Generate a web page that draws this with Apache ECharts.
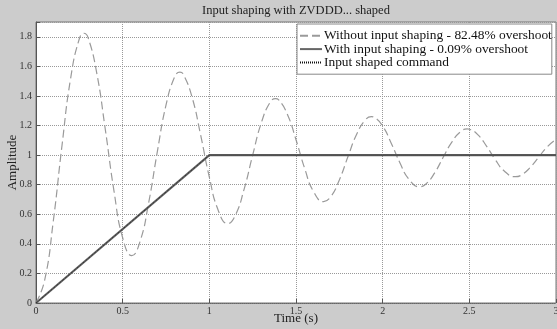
<!DOCTYPE html>
<html>
<head>
<meta charset="utf-8">
<script src="https://cdn.jsdelivr.net/npm/echarts@6/dist/echarts.min.js"></script>
<style>
  html, body { margin: 0; padding: 0; background: #cccccc; }
  #main { width: 557px; height: 329px; }
</style>
</head>
<body>
<div id="main"></div>
<script>
// time (s) and amplitude
const timeUnshaped = [0, 0.05, 0.1, 0.15, 0.2, 0.25, 0.2765, 0.3, 0.35, 0.4, 0.45, 0.5, 0.553, 0.6, 0.65, 0.7, 0.75, 0.8, 0.83, 0.85,
  0.9, 0.95, 1, 1.05, 1.106, 1.15, 1.2, 1.25, 1.3, 1.35, 1.3825, 1.4, 1.45, 1.5, 1.55, 1.6, 1.659, 1.7, 1.75, 1.8,
  1.85, 1.9, 1.935, 1.95, 2, 2.05, 2.1, 2.15, 2.212, 2.25, 2.3, 2.35, 2.4, 2.45, 2.488, 2.5, 2.55, 2.6, 2.65, 2.7,
  2.765, 2.8, 2.85, 2.9, 2.95, 3];
const ampUnshaped = [0, 0.154, 0.556, 1.065, 1.521, 1.787, 1.824, 1.796, 1.558, 1.172, 0.757, 0.441, 0.320, 0.415, 0.678, 1.023, 1.338, 1.529, 1.561, 1.546,
  1.393, 1.135, 0.851, 0.631, 0.537, 0.593, 0.767, 1.000, 1.219, 1.356, 1.382, 1.374, 1.277, 1.104, 0.910, 0.756, 0.685, 0.718, 0.832, 0.990,
  1.141, 1.238, 1.260, 1.256, 1.196, 1.079, 0.947, 0.839, 0.786, 0.805, 0.880, 0.987, 1.090, 1.159, 1.177, 1.175, 1.137, 1.059, 0.969, 0.894,
  0.854, 0.865, 0.915, 0.986, 1.057, 1.106];

const timeShaped = [0, 1, 3];
const ampShaped = [0, 1, 1];

const timeCommand = [0, 1, 3];
const ampCommand = [0, 1, 1];

const xTicks = [0, 0.5, 1, 1.5, 2, 2.5, 3];
const yTicks = [0, 0.2, 0.4, 0.6, 0.8, 1, 1.2, 1.4, 1.6, 1.8];

const names = [
  'Without input shaping - 82.48% overshoot',
  'With input shaping - 0.09% overshoot',
  'Input shaped command'
];

function pairs(xs, ys) {
  return xs.map((x, i) => [x, ys[i]]);
}

const serif = '"Liberation Serif", "DejaVu Serif", serif';
const chart = echarts.init(document.getElementById('main'));

chart.setOption({
  backgroundColor: '#cccccc',
  animation: false,
  textStyle: { fontFamily: serif },
  graphic: [{
    type: 'text',
    x: 296,
    y: 11,
    style: {
      text: 'Input shaping with ZVDDD... shaped',
      font: '12.5px ' + serif,
      fill: '#222',
      align: 'center',
      verticalAlign: 'middle'
    }
  }],
  grid: {
    left: 36, top: 22, right: 1, bottom: 26,
    outerBoundsMode: 'none',
    containLabel: false,
    show: true,
    backgroundColor: '#ffffff',
    borderColor: '#777',
    borderWidth: 1
  },
  legend: {
    orient: 'vertical',
    left: 297,
    top: 24,
    padding: [5, 0, 5, 2],
    itemGap: 0,
    itemWidth: 22,
    itemHeight: 13,
    backgroundColor: '#ffffff',
    borderColor: '#888',
    borderWidth: 1,
    borderRadius: 0,
    itemStyle: { color: 'rgba(0,0,0,0)', borderWidth: 0 },
    textStyle: { fontFamily: serif, fontSize: 13.4, color: '#111', lineHeight: 13.4, padding: [0, 0, 0, -3] },
    data: names
  },
  xAxis: {
    type: 'value',
    min: 0, max: 3, interval: 0.5,
    name: 'Time (s)',
    nameLocation: 'middle',
    nameGap: 9.5,
    nameMoveOverlap: false,
    nameTextStyle: { fontFamily: serif, fontSize: 13, color: '#222' },
    axisLine: { lineStyle: { color: '#666', type: 'dotted' } },
    axisTick: { inside: true, length: 4, lineStyle: { color: '#555' } },
    axisLabel: {
      fontFamily: serif, fontSize: 10, color: '#333', margin: 3,
      formatter: v => xTicks.indexOf(v) >= 0 ? String(v) : ''
    },
    splitLine: { show: true, lineStyle: { color: '#999', type: 'dotted' } }
  },
  yAxis: {
    type: 'value',
    min: 0, max: 1.9, interval: 0.2,
    name: 'Amplitude',
    nameLocation: 'middle',
    nameGap: 17,
    nameMoveOverlap: false,
    nameTextStyle: { fontFamily: serif, fontSize: 13, color: '#222' },
    axisLine: { show: true, lineStyle: { color: '#555' } },
    axisTick: { inside: true, length: 4, lineStyle: { color: '#555' } },
    axisLabel: {
      fontFamily: serif, fontSize: 10, color: '#333', margin: 4,
      formatter: v => {
        const m = yTicks.find(t => Math.abs(t - v) < 1e-6);
        return m === undefined ? '' : String(m);
      }
    },
    splitLine: { show: true, lineStyle: { color: '#999', type: 'dotted' } }
  },
  series: [
    {
      name: names[0],
      type: 'line',
      smooth: true,
      symbol: 'none',
      data: pairs(timeUnshaped, ampUnshaped),
      lineStyle: { color: '#9a9a9a', width: 1.2, type: [8, 4] },
      itemStyle: { color: '#9a9a9a' }
    },
    {
      name: names[1],
      type: 'line',
      symbol: 'none',
      data: pairs(timeShaped, ampShaped),
      lineStyle: { color: '#666', width: 2.2 },
      itemStyle: { color: '#666' }
    },
    {
      name: names[2],
      type: 'line',
      symbol: 'none',
      data: pairs(timeCommand, ampCommand),
      lineStyle: { color: '#111', width: 0.8, type: [1, 1] },
      itemStyle: { color: '#111' }
    }
  ]
});
</script>
</body>
</html>
